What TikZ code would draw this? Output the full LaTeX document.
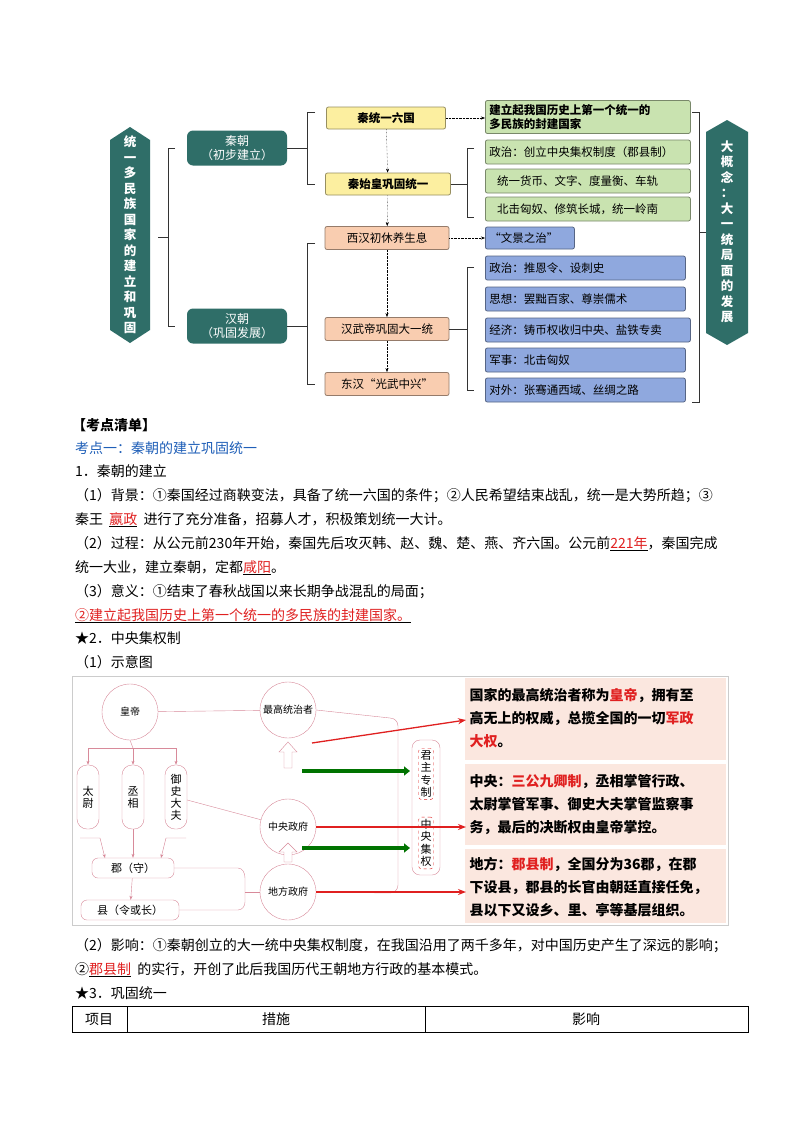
\documentclass[tikz,border=0pt]{standalone}
\usepackage{fontspec}
\setmainfont{Noto Sans CJK SC}
\usetikzlibrary{arrows.meta,positioning}
\definecolor{teal}{HTML}{2F6E68}
\definecolor{yel}{HTML}{FCEFA0}
\definecolor{sal}{HTML}{F9CDB0}
\definecolor{grn}{HTML}{C9E3B0}
\definecolor{blu}{HTML}{8FA8DE}
\definecolor{kblue}{HTML}{1F5FB8}
\definecolor{kred}{HTML}{E02020}
\definecolor{pinkln}{HTML}{D88A9A}
\definecolor{pinkbg}{HTML}{FBE7DF}
\tikzset{
  box/.style={draw,rounded corners=2pt,line width=0.8pt,font=\fontsize{11.5}{13.5}\selectfont,inner sep=2pt},
  ybox/.style={box,fill=yel,draw=yel!60!black},
  sbox/.style={box,fill=sal,draw=sal!60!black},
  gbox/.style={box,fill=grn,draw=grn!60!black,anchor=west,align=left,inner xsep=4pt},
  bbox/.style={box,fill=blu,draw=blu!60!black,anchor=west,align=left,inner xsep=4pt},
  badge/.style={fill=teal,rounded corners=6pt,text=white,align=center,font=\fontsize{12}{14}\selectfont,minimum width=100pt,minimum height=35pt},
  dotar/.style={densely dotted,-{Stealth[length=4pt]},thin},
  brc/.style={thick,black!80},
  line/.style={anchor=base west,inner sep=0pt,font=\fontsize{14}{16}\selectfont},
  circ/.style={draw=pinkln,circle,minimum size=56pt,font=\fontsize{10}{12}\selectfont,inner sep=0pt},
  pill/.style={draw=pinkln,rounded corners=10pt,minimum width=22pt,minimum height=64pt,align=center,font=\fontsize{11}{12}\selectfont},
  pk/.style={draw=pinkln,thin},
  hollow/.style={draw=pinkln,fill=white},
  rar/.style={kred,line width=1.3pt,-{Stealth[length=8pt]}},
  rtxt/.style={anchor=west,align=left,font=\bfseries\fontsize{14}{23}\selectfont},
}
\newcommand{\ul}[1]{\underline{\textcolor{kred}{#1}}}
\newcommand{\rd}[1]{\textcolor{kred}{#1}}
\begin{document}
\begin{tikzpicture}[x=1pt,y=-1pt]
\useasboundingbox[fill=white] (0,0) rectangle (800,1132);
% ---- top concept map
\fill[teal] (110,140) -- (130,127) -- (150,140) -- (150,330) -- (130,343) -- (110,330) -- cycle;
\node[text=white,font=\bfseries\fontsize{12.5}{15.5}\selectfont,align=center] (tagL) at (130,235)
  {统\\一\\多\\民\\族\\国\\家\\的\\建\\立\\和\\巩\\固};
\fill[teal] (706,132) -- (727,120) -- (748,132) -- (748,333) -- (727,345) -- (706,333) -- cycle;
\node[text=white,font=\bfseries\fontsize{12.5}{15.5}\selectfont,align=center] (tagR) at (727,232)
  {大\\概\\念\\：\\大\\一\\统\\局\\面\\的\\发\\展};
\node[badge] (qin) at (237,148) {秦朝\\（初步建立）};
\node[badge] (han) at (237,326) {汉朝\\（巩固发展）};
\node[ybox,minimum width=119pt,minimum height=22pt] (qinA) at (386,118) {\bfseries 秦统一六国};
\node[ybox,minimum width=125pt,minimum height=22pt] (qinB) at (388,184) {\bfseries 秦始皇巩固统一};
\node[sbox,minimum width=124pt,minimum height=23pt] (hanA) at (387,238) {西汉初休养生息};
\node[sbox,minimum width=124pt,minimum height=23pt] (hanB) at (387,329) {汉武帝巩固大一统};
\node[sbox,minimum width=124pt,minimum height=23pt] (hanC) at (387,384) {东汉“光武中兴”};
\node[gbox,text width=197pt,minimum height=33pt] (g1) at (485,117) {\bfseries 建立起我国历史上第一个统一的\\多民族的封建国家};
\node[gbox,text width=197pt,minimum height=24pt] (g2) at (485,152) {政治：创立中央集权制度（郡县制）};
\node[gbox,text width=197pt,minimum height=24pt] (g3) at (485,181) {\ \ 统一货币、文字、度量衡、车轨};
\node[gbox,text width=197pt,minimum height=24pt] (g4) at (485,209) {\ \ 北击匈奴、修筑长城，统一岭南};
\node[bbox,text width=81pt,minimum height=22pt] (wen) at (485,238) {“文景之治”};
\node[bbox,text width=192pt,minimum height=24pt] (b1) at (485,268) {政治：推恩令、设刺史};
\node[bbox,text width=192pt,minimum height=24pt] (b2) at (485,299) {思想：罢黜百家、尊崇儒术};
\node[bbox,text width=197pt,minimum height=24pt] (b3) at (485,330) {经济：铸币权收归中央、盐铁专卖};
\node[bbox,text width=192pt,minimum height=24pt] (b4) at (485,360) {军事：北击匈奴};
\node[bbox,text width=192pt,minimum height=24pt] (b5) at (485,390) {对外：张骞通西域、丝绸之路};
% braces
\draw[brc] (175,148) -- (168,148) -- (168,326) -- (175,326) (158,237) -- (168,237);
\draw[brc] (315,112) -- (307,112) -- (307,184) -- (315,184) (qin.east) -- (307,148);
\draw[brc] (315,243) -- (307,243) -- (307,384) -- (315,384) (han.east) -- (307,326);
\draw[brc] (474,148) -- (467,148) -- (467,217) -- (474,217) (qinB.east) -- (467,184);
\draw[brc] (474,267) -- (467,267) -- (467,390) -- (474,390) (hanB.east) -- (467,329);
\draw[brc] (692,112) -- (699,112) -- (699,402) -- (692,402) (699,232) -- (706,232);
\foreach \a/\b in {qinA/qinB, qinB/hanA, hanA/hanB, hanB/hanC}
  \draw[dotar] (\a) -- (\b);
\draw[dotar] (qinA) -- (g1.west |- qinA);
\draw[dotar] (hanA) -- (wen);
% ---- text
\node[line,font=\bfseries\fontsize{14}{16}\selectfont] (t0) at (72,430) {【考点清单】};
\node[line,text=kblue] (t1) at (75,453) {考点一：秦朝的建立巩固统一};
\node[line] (t2) at (75,476) {1．秦朝的建立};
\node[line] (t3) at (75,500) {（1）背景：①秦国经过商鞅变法，具备了统一六国的条件；②人民希望结束战乱，统一是大势所趋；③};
\node[line] (t4) at (75,524) {秦王 \ \ul{嬴政}\ \ 进行了充分准备，招募人才，积极策划统一大计。};
\node[line] (t5) at (75,548) {（2）过程：从公元前230年开始，秦国先后攻灭韩、赵、魏、楚、燕、齐六国。公元前\ul{221年}，秦国完成};
\node[line] (t6) at (75,572) {统一大业，建立秦朝，定都\ul{咸阳}。};
\node[line] (t7) at (75,596) {（3）意义：①结束了春秋战国以来长期争战混乱的局面；};
\node[line] (t8) at (75,620) {\ul{②建立起我国历史上第一个统一的多民族的封建国家。}};
\node[line] (t9) at (75,643) {★2．中央集权制};
\node[line] (t10) at (75,667) {（1）示意图};
% ---- centralisation diagram
\draw[black!20] (72,676) rectangle (728,925);
\fill[pinkbg] (465,678) rectangle (726,760);
\fill[pinkbg] (465,764) rectangle (726,845);
\fill[pinkbg] (465,849) rectangle (726,923);
\node[circ] (emp) at (130,712) {皇帝};
\node[circ] (top) at (288,710) {最高统治者};
\node[circ] (cen) at (288,827) {中央政府};
\node[circ] (loc) at (288,892) {地方政府};
\node[pill] (tw) at (88,797) {太\\尉};
\node[pill] (cx) at (133,797) {丞\\相};
\node[pill] (ys) at (176,797) {御\\史\\大\\夫};
\node[draw=pinkln,rounded corners=6pt,minimum width=82pt,minimum height=20pt,font=\fontsize{11}{12}\selectfont] (jun) at (133,868) {郡（守）};
\node[draw=pinkln,rounded corners=6pt,minimum width=98pt,minimum height=20pt,font=\fontsize{11}{12}\selectfont] (xian) at (130,910) {县（令或长）};
\draw[pk] (emp) -- (top);
\draw[pk] (emp.south) -- (133,748);
\draw[pk] (88,748) -- (176,748);
\foreach \p in {tw,cx,ys}
  \draw[pk,-{Stealth[length=4pt]}] (\p |- 0,748) -- (\p.north);
\draw[pk] (ys) -- (cen);
\draw[pk,-{Stealth[length=4pt]}] (cx.south) -- (jun.north);
\draw[pk,-{Stealth[length=4pt]}] (80,838) -- (100,838) -- (105,858);
\draw[pk,-{Stealth[length=4pt]}] (186,838) -- (166,838) -- (161,858);
\draw[pk,-{Stealth[length=4pt]}] (jun) -- (xian);
\draw[pk] (jun.east) -- (238,868) to[out=0,in=90] (245,878) -- (245,902) to[out=-90,in=0] (238,910) -- (xian.east);
\draw[pk] (245,892) -- (loc);
\draw[pk] (top.east) -- (390,718) to[out=0,in=90] (398,726) -- (398,885) to[out=-90,in=0] (390,893) -- (loc.east);
\draw[hollow] (284,768) -- (284,752) -- (279,752) -- (288,742) -- (297,752) -- (292,752) -- (292,768) -- cycle;
\draw[hollow] (284,862) -- (284,852) -- (279,852) -- (288,843) -- (297,852) -- (292,852) -- (292,862) -- cycle;
\draw[green!45!black,line width=3.5pt,-{Triangle[length=6pt,width=9pt]}] (302,771) -- (410,771);
\draw[green!45!black,line width=3.5pt,-{Triangle[length=6pt,width=9pt]}] (302,848) -- (410,848);
\draw[pk,rounded corners=8pt] (412,740) rectangle (440,875);
\node[draw=kred,dashed,rounded corners=3pt,inner sep=2pt,font=\fontsize{11}{12.5}\selectfont,align=center] (jz) at (426,774) {君\\主\\专\\制};
\node[draw=kred,dashed,rounded corners=3pt,inner sep=2pt,font=\fontsize{11}{12.5}\selectfont,align=center] (zy) at (426,843) {中\\央\\集\\权};
\node[rtxt] (r1) at (466,718) {国家的最高统治者称为\rd{皇帝}，拥有至\\高无上的权威，总揽全国的一切\rd{军政}\\\rd{大权}。};
\node[rtxt] (r2) at (466,805) {中央：\rd{三公九卿制}，丞相掌管行政、\\太尉掌管军事、御史大夫掌管监察事\\务，最后的决断权由皇帝掌控。};
\node[rtxt] (r3) at (466,887) {地方：\rd{郡县制}，全国分为36郡，在郡\\下设县，郡县的长官由朝廷直接任免，\\县以下又设乡、里、亭等基层组织。};
\draw[rar] (312,743) -- (r1.west |- 0,720);
\draw[rar] (cen.east) -- (r2.west |- cen);
\draw[rar] (loc.east) -- (r3.west |- loc);
% ---- text below
\node[line] (t11) at (75,950) {（2）影响：①秦朝创立的大一统中央集权制度，在我国沿用了两千多年，对中国历史产生了深远的影响；};
\node[line] (t12) at (75,974) {②\ul{郡县制}\ \ 的实行，开创了此后我国历代王朝地方行政的基本模式。};
\node[line] (t13) at (75,998) {★3．巩固统一};
\draw (72,1006) rectangle (748,1032) (127,1006) -- (127,1032) (425,1006) -- (425,1032);
\node[font=\fontsize{14}{16}\selectfont] (h1) at (99,1019) {项目};
\node[font=\fontsize{14}{16}\selectfont] (h2) at (276,1019) {措施};
\node[font=\fontsize{14}{16}\selectfont] (h3) at (586,1019) {影响};
\end{tikzpicture}
\end{document}
